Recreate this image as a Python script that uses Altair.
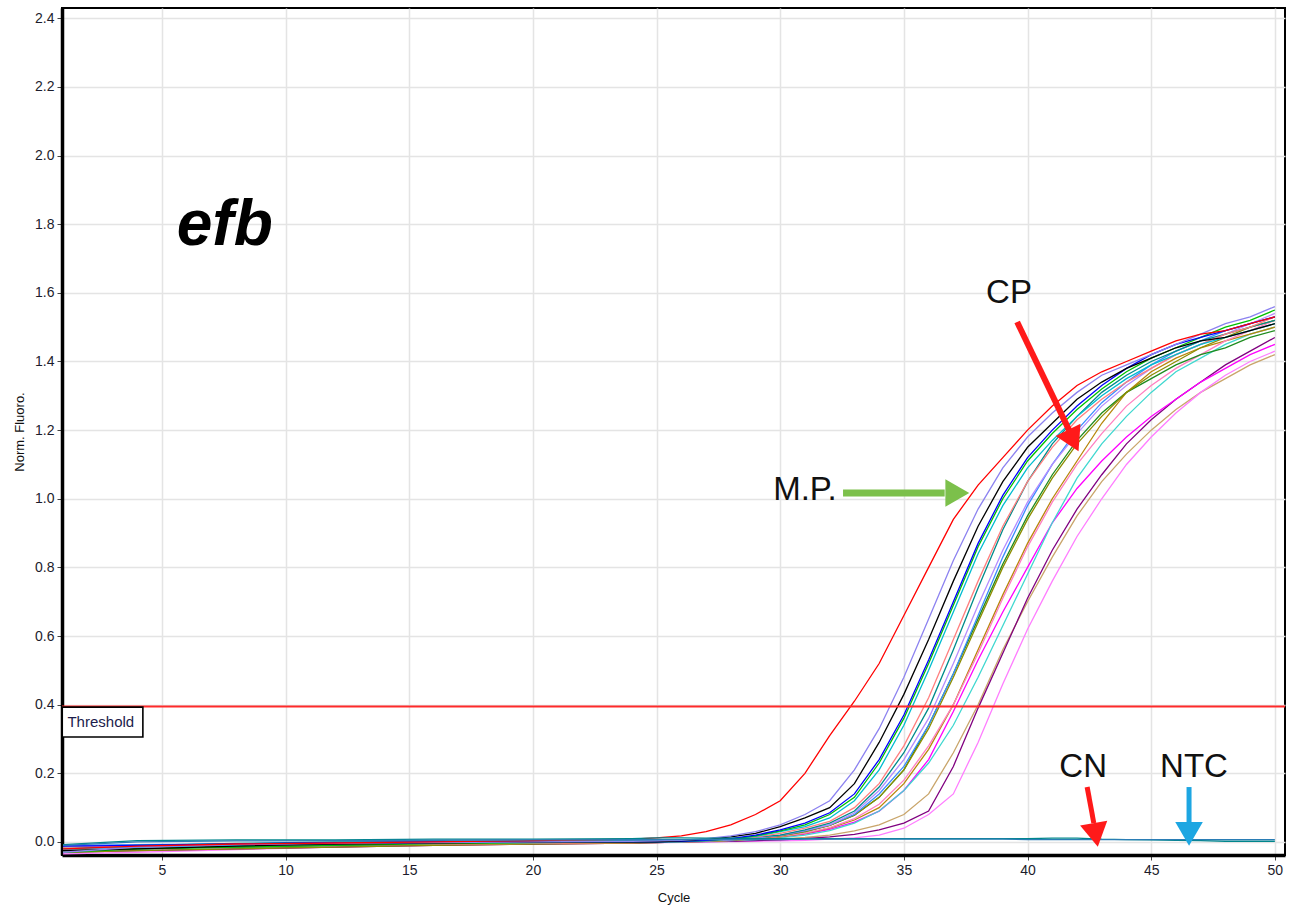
import altair as alt
import pandas as pd

# Sampled cycles: sparse through the flat baseline, every cycle once amplification starts
CYCLES = [1, 4, 8, 12, 16, 20, 24,
          25, 26, 27, 28, 29, 30, 31, 32, 33, 34, 35, 36, 37,
          38, 39, 40, 41, 42, 43, 44, 45, 46, 47, 48, 49, 50]

# Normalised fluorescence of each sample (same order as CYCLES)
MP_RED = [-0.02, -0.012, -0.006, -0.003, 0.0, 0.004, 0.008,
          0.012, 0.018, 0.03, 0.05, 0.08, 0.12, 0.20, 0.31, 0.41, 0.52, 0.66, 0.80, 0.94,
          1.04, 1.12, 1.20, 1.27, 1.33, 1.37, 1.40, 1.43, 1.46, 1.48, 1.49, 1.51, 1.53]
LAVENDER = [-0.03, -0.015, -0.008, -0.004, -0.002, 0.0, 0.002,
            0.003, 0.005, 0.01, 0.018, 0.03, 0.05, 0.08, 0.12, 0.21, 0.33, 0.48, 0.65, 0.82,
            0.97, 1.09, 1.18, 1.25, 1.31, 1.36, 1.39, 1.42, 1.45, 1.48, 1.51, 1.53, 1.56]
BLACK = [-0.025, -0.02, -0.012, -0.006, -0.003, 0.0, 0.0,
         0.0, 0.003, 0.008, 0.015, 0.025, 0.045, 0.07, 0.10, 0.17, 0.29, 0.43, 0.59, 0.76,
         0.92, 1.05, 1.15, 1.22, 1.29, 1.34, 1.38, 1.41, 1.44, 1.46, 1.47, 1.49, 1.51]
BLUE = [-0.012, -0.01, -0.006, -0.002, 0.0, 0.0, 0.0,
        0.0, 0.002, 0.005, 0.01, 0.02, 0.035, 0.055, 0.085, 0.14, 0.24, 0.37, 0.53, 0.70,
        0.87, 1.01, 1.12, 1.20, 1.27, 1.33, 1.38, 1.42, 1.45, 1.47, 1.49, 1.51, 1.53]
GREEN = [-0.03, -0.02, -0.015, -0.01, -0.005, -0.002, 0.0,
         0.0, 0.002, 0.004, 0.009, 0.018, 0.032, 0.05, 0.08, 0.13, 0.23, 0.36, 0.52, 0.69,
         0.86, 1.00, 1.11, 1.19, 1.26, 1.32, 1.37, 1.41, 1.44, 1.47, 1.50, 1.52, 1.55]
CYAN = [-0.02, -0.015, -0.01, -0.006, -0.004, -0.002, 0.0,
        0.0, 0.001, 0.004, 0.008, 0.016, 0.03, 0.045, 0.07, 0.12, 0.21, 0.34, 0.50, 0.67,
        0.84, 0.98, 1.09, 1.17, 1.24, 1.30, 1.35, 1.39, 1.42, 1.45, 1.47, 1.49, 1.51]
SALMON = [-0.015, -0.012, -0.01, -0.008, -0.006, -0.004, -0.002,
          0.0, 0.002, 0.004, 0.008, 0.014, 0.025, 0.04, 0.06, 0.10, 0.17, 0.28, 0.42, 0.59,
          0.76, 0.92, 1.05, 1.15, 1.23, 1.29, 1.34, 1.38, 1.42, 1.45, 1.48, 1.50, 1.53]
TEAL = [-0.02, -0.01, -0.004, 0.0, 0.0, 0.002, 0.004,
        0.004, 0.005, 0.007, 0.01, 0.014, 0.02, 0.035, 0.055, 0.09, 0.16, 0.26, 0.39, 0.56,
        0.74, 0.91, 1.05, 1.16, 1.24, 1.31, 1.36, 1.40, 1.43, 1.46, 1.48, 1.50, 1.52]
VIOLET = [-0.02, -0.015, -0.01, -0.006, -0.004, -0.002, 0.0,
          0.0, 0.001, 0.003, 0.006, 0.012, 0.02, 0.034, 0.05, 0.085, 0.15, 0.24, 0.36, 0.52,
          0.69, 0.85, 0.99, 1.10, 1.19, 1.27, 1.33, 1.38, 1.42, 1.45, 1.48, 1.51, 1.54]
CORNFLOWER = [-0.01, -0.008, -0.006, -0.004, -0.002, 0.0, 0.0,
              0.0, 0.001, 0.003, 0.006, 0.011, 0.019, 0.032, 0.05, 0.08, 0.14, 0.22, 0.34, 0.49,
              0.66, 0.83, 0.98, 1.10, 1.20, 1.28, 1.34, 1.39, 1.43, 1.46, 1.49, 1.51, 1.53]
OLIVE = [-0.03, -0.025, -0.02, -0.015, -0.01, -0.006, -0.003,
         -0.002, 0.0, 0.002, 0.005, 0.01, 0.018, 0.03, 0.048, 0.078, 0.13, 0.21, 0.33, 0.48,
         0.64, 0.80, 0.94, 1.06, 1.16, 1.24, 1.31, 1.36, 1.40, 1.44, 1.47, 1.50, 1.52]
DARKGREEN = [-0.025, -0.02, -0.015, -0.01, -0.006, -0.003, -0.001,
             0.0, 0.001, 0.003, 0.006, 0.011, 0.019, 0.03, 0.048, 0.078, 0.13, 0.21, 0.34, 0.49,
             0.65, 0.81, 0.95, 1.07, 1.17, 1.25, 1.31, 1.35, 1.39, 1.42, 1.44, 1.47, 1.49]
ROSE = [-0.02, -0.018, -0.014, -0.01, -0.006, -0.004, -0.002,
        0.0, 0.001, 0.002, 0.005, 0.009, 0.016, 0.026, 0.042, 0.068, 0.11, 0.18, 0.28, 0.40,
        0.55, 0.71, 0.86, 0.99, 1.10, 1.19, 1.27, 1.33, 1.38, 1.42, 1.46, 1.49, 1.52]
GOLDENROD = [-0.02, -0.015, -0.01, -0.006, -0.004, -0.002, 0.0,
             0.0, 0.001, 0.002, 0.005, 0.009, 0.015, 0.025, 0.04, 0.064, 0.10, 0.17, 0.27, 0.40,
             0.56, 0.72, 0.87, 1.00, 1.11, 1.22, 1.31, 1.37, 1.41, 1.44, 1.46, 1.48, 1.50]
TURQUOISE = [-0.015, -0.012, -0.008, -0.005, -0.003, -0.001, 0.0,
             0.0, 0.001, 0.002, 0.004, 0.007, 0.012, 0.02, 0.033, 0.055, 0.09, 0.15, 0.23, 0.34,
             0.48, 0.63, 0.78, 0.93, 1.06, 1.16, 1.24, 1.31, 1.37, 1.41, 1.45, 1.48, 1.50]
MAGENTA = [-0.02, -0.018, -0.014, -0.01, -0.007, -0.004, -0.002,
           0.0, 0.001, 0.002, 0.004, 0.008, 0.014, 0.023, 0.037, 0.058, 0.09, 0.15, 0.24, 0.38,
           0.53, 0.67, 0.80, 0.93, 1.03, 1.11, 1.18, 1.24, 1.29, 1.34, 1.38, 1.42, 1.45]
TAN = [-0.02, -0.016, -0.012, -0.008, -0.005, -0.003, -0.001,
       0.0, 0.001, 0.002, 0.003, 0.005, 0.008, 0.013, 0.02, 0.032, 0.05, 0.08, 0.14, 0.26,
       0.40, 0.56, 0.70, 0.83, 0.95, 1.05, 1.13, 1.20, 1.26, 1.31, 1.35, 1.39, 1.42]
PURPLE = [-0.03, -0.025, -0.02, -0.015, -0.01, -0.006, -0.003,
          -0.002, 0.0, 0.001, 0.002, 0.004, 0.006, 0.01, 0.015, 0.022, 0.035, 0.055, 0.09, 0.22,
          0.39, 0.55, 0.71, 0.85, 0.97, 1.07, 1.16, 1.23, 1.29, 1.34, 1.39, 1.43, 1.47]
LIGHTPINK = [-0.035, -0.03, -0.022, -0.015, -0.01, -0.006, -0.003,
             -0.002, -0.001, 0.0, 0.001, 0.002, 0.003, 0.005, 0.008, 0.012, 0.02, 0.04, 0.08, 0.14,
             0.29, 0.46, 0.62, 0.76, 0.89, 1.00, 1.10, 1.18, 1.25, 1.31, 1.36, 1.40, 1.43]
# Negative control and no-template control stay flat
CN = [-0.008, 0.004, 0.006, 0.006, 0.008, 0.008, 0.01,
      0.012, 0.012, 0.011, 0.011, 0.01, 0.01, 0.01, 0.01, 0.01, 0.01, 0.01, 0.01, 0.01,
      0.01, 0.01, 0.01, 0.011, 0.011, 0.008, 0.007, 0.006, 0.005, 0.004, 0.002, 0.002, 0.002]
NTC = [-0.01, 0.0, 0.003, 0.004, 0.005, 0.006, 0.007,
       0.007, 0.007, 0.007, 0.007, 0.007, 0.007, 0.008, 0.008, 0.008, 0.008, 0.008, 0.008, 0.008,
       0.008, 0.008, 0.007, 0.007, 0.007, 0.007, 0.007, 0.007, 0.007, 0.007, 0.007, 0.007, 0.007]

SERIES = [
    ("Tan", TAN, "#c9a56a"),
    ("Light pink", LIGHTPINK, "#ff7dff"),
    ("Purple", PURPLE, "#800080"),
    ("Magenta", MAGENTA, "#ff00ff"),
    ("Turquoise", TURQUOISE, "#40d8d0"),
    ("Goldenrod", GOLDENROD, "#b8860b"),
    ("Rose", ROSE, "#ff80c0"),
    ("Dark green", DARKGREEN, "#1e8c1e"),
    ("Olive", OLIVE, "#8c8c00"),
    ("Cornflower", CORNFLOWER, "#3c8cff"),
    ("Violet", VIOLET, "#b48cff"),
    ("Teal", TEAL, "#008b8b"),
    ("Salmon", SALMON, "#ff7f7f"),
    ("Cyan", CYAN, "#00bcd0"),
    ("Green", GREEN, "#00c000"),
    ("Blue", BLUE, "#0000ff"),
    ("Black", BLACK, "#000000"),
    ("Lavender", LAVENDER, "#8c82f0"),
    ("M.P.", MP_RED, "#ff0000"),
    ("CN", CN, "#00868c"),
    ("NTC", NTC, "#2a7db5"),
]

THRESHOLD = 0.395
X_TICKS = [5, 10, 15, 20, 25, 30, 35, 40, 45, 50]
Y_TICKS = [0.0, 0.2, 0.4, 0.6, 0.8, 1.0, 1.2, 1.4, 1.6, 1.8, 2.0, 2.2, 2.4]
FONT = "Liberation Sans"

rows = []
for order, (name, vals, _) in enumerate(SERIES):
    for c, v in zip(CYCLES, vals):
        rows.append({"sample": name, "order": order, "cycle": c, "value": v})
curves = pd.DataFrame(rows)

x_scale = alt.Scale(domain=[0.96, 50.41], nice=False, zero=False)
y_scale = alt.Scale(domain=[-0.038, 2.43], nice=False, zero=False)
x_axis = alt.Axis(values=X_TICKS, title="Cycle", format="d")
y_axis = alt.Axis(values=Y_TICKS, title="Norm. Fluoro.", format=".1f")


def X(field):
    return alt.X(field, scale=x_scale, axis=x_axis, title="Cycle")


def Y(field):
    return alt.Y(field, scale=y_scale, axis=y_axis, title="Norm. Fluoro.")


lines = alt.Chart(curves).mark_line(strokeWidth=1.3, clip=True).encode(
    x=X("cycle:Q"),
    y=Y("value:Q"),
    color=alt.Color("sample:N", legend=None,
                    scale=alt.Scale(domain=[s[0] for s in SERIES],
                                    range=[s[2] for s in SERIES])),
    detail="sample:N",
    order="order:Q",
)

threshold = alt.Chart(pd.DataFrame({"value": [THRESHOLD]})).mark_rule(
    color="#ff2a2a", strokeWidth=2
).encode(y=Y("value:Q"))

# Label box for the threshold line
box_df = pd.DataFrame({"cycle": [0.97], "cycle2": [4.23], "value": [0.306], "value2": [0.393]})
thr_box = alt.Chart(box_df).mark_rect(fill="white", stroke="black", strokeWidth=1.6).encode(
    x=X("cycle:Q"), x2="cycle2:Q",
    y=Y("value:Q"), y2="value2:Q",
)
thr_text = alt.Chart(pd.DataFrame({"cycle": [1.18], "value": [0.35], "label": ["Threshold"]})).mark_text(
    align="left", baseline="middle", font=FONT, fontSize=15, color="#1c1c4c"
).encode(x=X("cycle:Q"), y=Y("value:Q"), text="label:N")

gene = alt.Chart(pd.DataFrame({"cycle": [5.6], "value": [1.74], "label": ["efb"]})).mark_text(
    align="left", baseline="alphabetic", font=FONT, fontSize=64,
    fontStyle="italic", fontWeight="bold", color="black"
).encode(x=X("cycle:Q"), y=Y("value:Q"), text="label:N")

labels_df = pd.DataFrame({
    "cycle": [39.25, 31.0, 42.25, 46.73],
    "value": [1.60, 1.025, 0.218, 0.218],
    "label": ["CP", "M.P.", "CN", "NTC"],
})
labels = alt.Chart(labels_df).mark_text(
    align="center", baseline="middle", font=FONT, fontSize=33, color="#111"
).encode(x=X("cycle:Q"), y=Y("value:Q"), text="label:N")

# Arrow shafts (cycle -> cycle2) and heads (at their own cycle, value)
shaft_df = pd.DataFrame({
    "name": ["CP", "M.P.", "CN", "NTC"],
    "cycle": [39.58, 32.54, 42.41, 46.53],
    "value": [1.515, 1.017, 0.160, 0.160],
    "cycle2": [41.68, 36.65, 42.68, 46.53],
    "value2": [1.200, 1.017, 0.055, 0.058],
    "width": [6, 7, 5, 5],
})
head_df = pd.DataFrame({
    "name": ["CP", "M.P.", "CN", "NTC"],
    "cycle": [41.78, 37.0, 42.73, 46.53],
    "value": [1.18, 1.017, 0.032, 0.035],
    "angle": [154, 90, 170, 180],
})
arrow_colors = alt.Scale(domain=["CP", "M.P.", "CN", "NTC"],
                         range=["#ff1a1a", "#7cc04b", "#ff1a1a", "#1da6e2"])
shafts = alt.Chart(shaft_df).mark_rule(strokeCap="butt").encode(
    x=X("cycle:Q"), x2="cycle2:Q",
    y=Y("value:Q"), y2="value2:Q",
    color=alt.Color("name:N", scale=arrow_colors, legend=None),
    strokeWidth=alt.StrokeWidth("width:Q", scale=None, legend=None),
)
heads = alt.Chart(head_df).mark_point(shape="triangle", filled=True, opacity=1, size=760).encode(
    x=X("cycle:Q"),
    y=Y("value:Q"),
    color=alt.Color("name:N", scale=arrow_colors, legend=None),
    angle=alt.Angle("angle:Q", scale=None),
)

chart = alt.layer(
    lines, threshold, thr_box, thr_text, gene, labels, shafts, heads
).resolve_scale(color="independent").properties(
    width=1223, height=847,
    autosize=alt.AutoSizeParams(type="none"),
    padding={"left": 62, "top": 8, "right": 16, "bottom": 58},
).configure_view(
    stroke="black", strokeWidth=2
).configure_axis(
    grid=True, gridColor="#e4e4e4", gridWidth=1.5,
    domainColor="black", domainWidth=3.5,
    tickColor="#444", tickSize=5, tickWidth=1,
    labelFont=FONT, labelFontSize=14, labelColor="#1c1c2c", labelPadding=3,
    titleFont=FONT, titleFontSize=13, titleFontWeight="normal", titleColor="#111",
).configure_axisX(titlePadding=14).configure_axisY(titlePadding=8)

chart.save("out.html", embed_options={"renderer": "svg", "actions": False})
